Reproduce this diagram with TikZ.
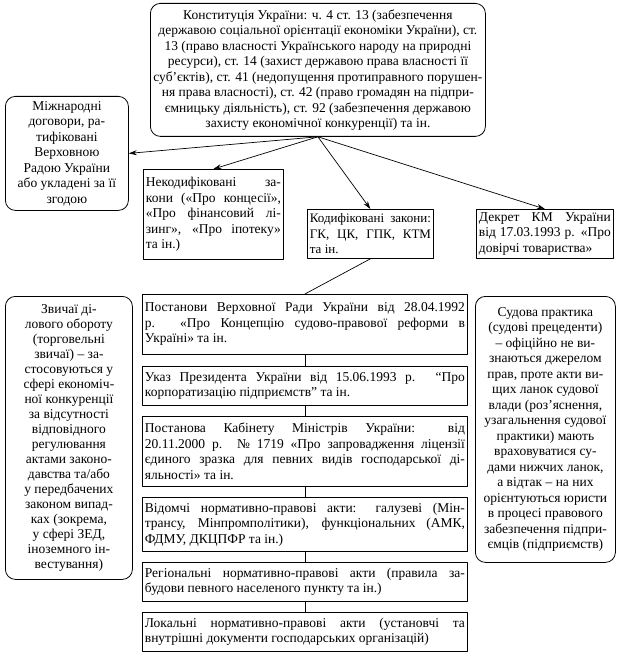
\documentclass[tikz,border=0pt]{standalone}
\usepackage{fontspec}
\setmainfont{Liberation Serif}
\usetikzlibrary{arrows.meta}
\pretolerance=10000 \tolerance=10000 \hbadness=10000 \hfuzz=4pt
\begin{document}
\begin{tikzpicture}[line join = round, line cap = round,>={Stealth[length=8pt,width=5pt]},x = 1pt,y = -1pt,
  font=\fontsize{13.5}{15.5}\selectfont,
  rbox/.style={draw,line width=0.8pt,rounded corners=10pt,anchor=north west,inner xsep=1pt,inner ysep=2pt,align=center},
  sbox/.style={draw,line width=0.8pt,anchor=north west,inner xsep=2.5pt,inner ysep=2pt,align=justify},
  link/.style={line width=0.7pt}]
  \useasboundingbox (0,0) rectangle (623,660);
  %Конституція
  \node[rbox,minimum width=335pt,minimum height=133pt] (konst) at (150,3) {Конституція України: ч. 4 ст. 13 (забезпечення\\
    державою соціальної орієнтації економіки України), ст.\\
    13 (право власності Українського народу на природні\\
    ресурси), ст. 14 (захист державою права власності її\\
    суб'єктів), ст. 41 (недопущення протиправного порушен-\\
    ня права власності), ст. 42 (право громадян на підпри-\\
    ємницьку діяльність), ст. 92 (забезпечення державою\\
    захисту економічної конкуренції) та ін.};
  %Верхній ряд
  \node[rbox,minimum width=123pt,minimum height=114pt] (mizh) at (5,96) {Міжнародні\\ договори, ра-\\ тифіковані\\ Верховною\\ Радою України\\ або укладені за її\\ згодою};
  \node[sbox,text width=135pt,minimum height=90pt] (nekod) at (143,169) {Некодифіковані за-\linebreak
    кони («Про концесії»,\linebreak «Про фінансовий лі-\linebreak зинг», «Про іпотеку»\linebreak та ін.)};
  \node[sbox,text width=121pt,minimum height=49pt,font=\fontsize{13}{15.5}\selectfont] (kod) at (307,209) {Кодифіковані закони:\linebreak ГК, ЦК, ГПК, КТМ\linebreak та ін.};
  \node[sbox,text width=132pt,minimum height=49pt] (dekret) at (476,209) {Декрет КМ України\linebreak від 17.03.1993 р. «Про\linebreak довірчі товариства»};
  %Бічні блоки
  \node[rbox,minimum width=127pt,minimum height=283pt,font=\fontsize{13.5}{15}\selectfont] (zvych) at (5,296) {Звичаї ді-\\ лового обороту\\ (торговельні\\ звичаї) – за-\\ стосовуються у\\ сфері економіч-\\ ної конкуренції\\ за відсутності\\ відповідного\\ регулювання\\ актами законо-\\ давства та/або\\ у передбачених\\ законом випад-\\ ках (зокрема,\\ у сфері ЗЕД,\\ іноземного ін-\\ вестування)};
  \node[rbox,minimum width=140pt,minimum height=266pt] (sud) at (475,296) {Судова практика\\ (судові прецеденти)\\ – офіційно не ви-\\ знаються джерелом\\ прав, проте акти ви-\\ щих ланок судової\\ влади (роз'яснення,\\ узагальнення судової\\ практики) мають\\ враховуватися су-\\ дами нижчих ланок,\\ а відтак – на них\\ орієнтуються юристи\\ в процесі правового\\ забезпечення підпри-\\ ємців (підприємств)};
  %Підзаконні акти
  \node[sbox,text width=320pt,minimum height=60pt] (post) at (142,294) {Постанови Верховної Ради України від 28.04.1992\linebreak
    р. «Про Концепцію судово-правової реформи в\linebreak Україні» та ін.};
  \node[sbox,text width=320pt,minimum height=39pt] (ukaz) at (142,366) {Указ Президента України від 15.06.1993 р. “Про\linebreak
    корпоратизацію підприємств” та ін.};
  \node[sbox,text width=320pt,minimum height=70pt] (kmu) at (142,416) {Постанова Кабінету Міністрів України: від\linebreak
    20.11.2000 р. № 1719 «Про запровадження ліцензії\linebreak єдиного зразка для певних видів господарської ді-\linebreak яльності» та ін.};
  \node[sbox,text width=320pt,minimum height=54pt] (vidom) at (142,497) {Відомчі нормативно-правові акти: галузеві (Мін-\linebreak
    трансу, Мінпромполітики), функціональних (АМК,\linebreak ФДМУ, ДКЦПФР та ін.)};
  \node[sbox,text width=320pt,minimum height=39pt] (reg) at (142,562) {Регіональні нормативно-правові акти (правила за-\linebreak
    будови певного населеного пункту та ін.)};
  \node[sbox,text width=320pt,minimum height=39pt] (lok) at (142,612) {Локальні нормативно-правові акти (установчі та\linebreak
    внутрішні документи господарських організацій)};
  %Стрілки від Конституції
  \foreach \t/\a in {mizh/east,nekod/north,kod/north,dekret/north}
    \draw[link,->] (konst.south) -- (\t.\a);
  %Лінії між блоками
  \draw[link] (kod.south) -- (post.north);
  \foreach \a/\b in {post/ukaz,ukaz/kmu,kmu/vidom,vidom/reg,reg/lok}
    \draw[link] (\a.south) -- (\b.north);
\end{tikzpicture}
\end{document}
